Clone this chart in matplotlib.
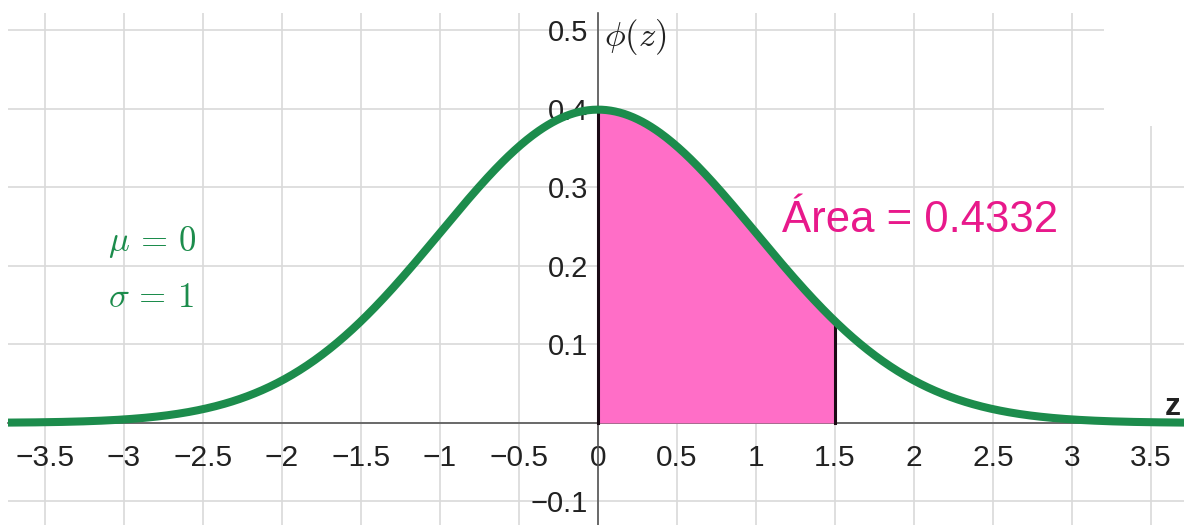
import numpy as np
import matplotlib.pyplot as plt
from matplotlib.patches import Rectangle

plt.rcParams['font.family'] = ['Liberation Sans', 'DejaVu Sans']
plt.rcParams['mathtext.fontset'] = 'cm'

# distribution and shaded interval
mu = 0
sigma = 1
z_lo = 0
z_hi = 1.5
area_text = 'Área = 0.4332'

x_ticks = [-3.5, -3, -2.5, -2, -1.5, -1, -0.5, 0, 0.5, 1, 1.5, 2, 2.5, 3, 3.5]
x_labels = ['−3.5', '−3', '−2.5', '−2', '−1.5', '−1', '−0.5', '0',
            '0.5', '1', '1.5', '2', '2.5', '3', '3.5']
y_ticks = [-0.1, 0, 0.1, 0.2, 0.3, 0.4, 0.5]
y_labels = ['−0.1', '', '0.1', '0.2', '0.3', '0.4', '0.5']

green = '#1c8c4c'
pink = '#ff6ec7'
magenta = '#e8198b'


def phi(z):
    return np.exp(-0.5 * ((z - mu) / sigma) ** 2) / (sigma * np.sqrt(2 * np.pi))


fig = plt.figure(figsize=(11.84, 5.25), dpi=100)
ax = fig.add_axes([8 / 1184, 0, 1176 / 1184, 512 / 525])
ax.set_xlim(-3.734, 3.709)
ax.set_ylim(-0.130, 0.522)

for s in ['top', 'right']:
    ax.spines[s].set_visible(False)
ax.spines['left'].set_position(('data', 0))
ax.spines['bottom'].set_position(('data', 0))
for s in ['left', 'bottom']:
    ax.spines[s].set_color('#555555')
    ax.spines[s].set_linewidth(1.2)
    ax.spines[s].set_zorder(2)

ax.set_xticks(x_ticks)
ax.set_xticklabels(x_labels)
ax.set_yticks(y_ticks)
ax.set_yticklabels(y_labels)
ax.tick_params(axis='x', length=0, pad=15, labelsize=21.5, labelcolor='#222222')
ax.tick_params(axis='y', length=0, pad=7, labelsize=21, labelcolor='#222222')
ax.grid(True, color='#d9d9d9', linewidth=1.2)
ax.set_axisbelow(True)

z = np.linspace(-3.8, 3.8, 800)
zf = np.linspace(z_lo, z_hi, 300)
ax.fill_between(zf, 0, phi(zf), color=pink, zorder=3, linewidth=0)
ax.plot([z_lo, z_lo], [0, phi(z_lo)], color='#1a0a14', linewidth=2.2, zorder=4)
ax.plot([z_hi, z_hi], [0, phi(z_hi)], color='#1a0a14', linewidth=2.2, zorder=4)
ax.plot(z, phi(z), color=green, linewidth=5.8, zorder=5, solid_capstyle='butt')

ax.text(0.035, 0.492, r'$\phi(z)$', fontsize=25, color='#222222', va='center', ha='left')
ax.text(3.64, 0.02, 'z', fontsize=23, color='#222222', va='center', ha='center',
        fontweight='bold')
ax.text(1.165, 0.243, area_text, fontsize=31.5, color=magenta, va='baseline', ha='left')
ax.text(-3.10, 0.231, r'$\mu\,=\,%d$' % mu, fontsize=25, color=green, va='center', ha='left')
ax.text(-3.10, 0.160, r'$\sigma\,=\,%d$' % sigma, fontsize=25, color=green, va='center', ha='left')

# blank patch in the top right corner
fig.patches.append(Rectangle((1104 / 1184, 1 - 126 / 525), 80 / 1184, 113 / 525,
                             transform=fig.transFigure, facecolor='white',
                             edgecolor='none', zorder=10))

fig.savefig('out.png', dpi=100)
